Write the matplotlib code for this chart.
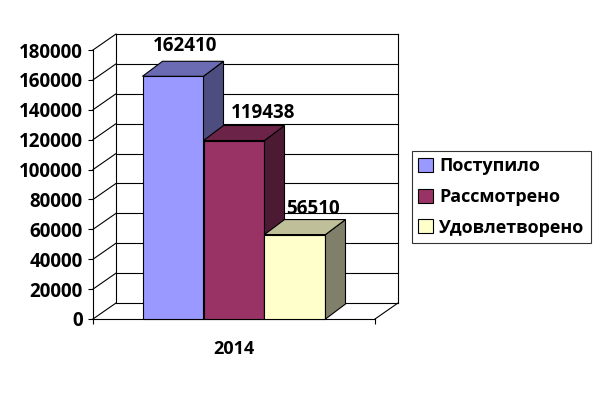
import matplotlib
matplotlib.use("Agg")
import matplotlib.pyplot as plt
from matplotlib.patches import Polygon, Patch
import numpy as np

# ---- data ----
series = ["Поступило", "Рассмотрено", "Удовлетворено"]
values = [162410, 119438, 56510]
category = "2014"
yticks = [0, 20000, 40000, 60000, 80000, 100000, 120000, 140000, 160000, 180000]

front_colors = ["#9999FF", "#993366", "#FFFFCC"]
top_colors = ["#6B6BB3", "#6B2447", "#BFBF99"]
side_colors = ["#4D4D80", "#4D1A33", "#80806A"]

# label placement offsets (pixels, relative to bar front centre / top back edge)
label_dx_px = [12, 29, 18]
label_dy_px = [15, 13, 11]

FONT = ["Open Sans", "DejaVu Sans"]
plt.rcParams["font.family"] = FONT

W, H, DPI = 599, 397, 100
fig = plt.figure(figsize=(W / DPI, H / DPI), dpi=DPI)
fig.patch.set_facecolor("white")

# front plane of the plot (pixels)
left_px, right_px, top_px, bot_px = 93, 375, 50, 319
ax = fig.add_axes([left_px / W, 1 - bot_px / H, (right_px - left_px) / W, (bot_px - top_px) / H])
ax.set_xlim(-0.5, 0.5)
ax.set_ylim(0, 180000)
ax.patch.set_visible(False)

# pixel -> data conversion for depth offsets
xpp = 1.0 / (right_px - left_px)
ypp = 180000.0 / (bot_px - top_px)
wall_dx, wall_dy = 23 * xpp, 16 * ypp
bar_dx, bar_dy = 20 * xpp, 15 * ypp

lw = 0.8
kw = dict(color="black", lw=lw, clip_on=False, zorder=1)
x0, x1 = -0.5, 0.5
# walls and gridlines
for v in yticks:
    ax.plot([x0 + wall_dx, x1 + wall_dx], [v + wall_dy, v + wall_dy], **kw)
    ax.plot([x0, x0 + wall_dx], [v, v + wall_dy], **kw)
ax.plot([x0 + wall_dx, x0 + wall_dx], [wall_dy, 180000 + wall_dy], **kw)
ax.plot([x1 + wall_dx, x1 + wall_dx], [wall_dy, 180000 + wall_dy], **kw)
ax.plot([x1, x1 + wall_dx], [0, wall_dy], **kw)

# bars
bw = 0.2163
n = len(values)
xs = (np.arange(n) - (n - 1) / 2) * bw
for i, (xc, v) in enumerate(zip(xs, values)):
    a, b = xc - bw / 2, xc + bw / 2
    ax.bar(xc, v, width=bw, color=front_colors[i], edgecolor="black", lw=lw, zorder=3 + i, clip_on=False)
    top = Polygon([(a, v), (b, v), (b + bar_dx, v + bar_dy), (a + bar_dx, v + bar_dy)],
                  closed=True, facecolor=top_colors[i], edgecolor="black", lw=lw, zorder=3 + i, clip_on=False)
    side = Polygon([(b, 0), (b, v), (b + bar_dx, v + bar_dy), (b + bar_dx, bar_dy)],
                   closed=True, facecolor=side_colors[i], edgecolor="black", lw=lw, zorder=3 + i, clip_on=False)
    ax.add_patch(side)
    ax.add_patch(top)
    ax.text(xc + label_dx_px[i] * xpp, v + bar_dy + label_dy_px[i] * ypp, str(v), ha="center", va="center",
            fontsize=13.5, fontweight="bold", zorder=10, clip_on=False)

# axes styling
for s in ["top", "right"]:
    ax.spines[s].set_visible(False)
ax.spines["left"].set_linewidth(lw)
ax.spines["bottom"].set_linewidth(lw)
ax.spines["left"].set_zorder(2)
ax.spines["bottom"].set_zorder(2)
ax.set_yticks(yticks)
ax.set_yticklabels([str(t) for t in yticks])
ax.tick_params(axis="y", direction="out", length=3.6, width=lw, pad=3.6, labelsize=13.5)
for lab in ax.get_yticklabels():
    lab.set_fontweight("bold")
ax.set_xticks([0])
ax.set_xticklabels([category])
ax.set_xticks([-0.5, 0.5], minor=True)
ax.tick_params(axis="x", which="major", length=0, pad=15, labelsize=13)
ax.tick_params(axis="x", which="minor", direction="out", length=3.6, width=lw)
for lab in ax.get_xticklabels():
    lab.set_fontweight("bold")

# legend
handles = [Patch(facecolor=c, edgecolor="black", lw=lw) for c in front_colors]
leg = fig.legend(handles, series, loc="center left", bbox_to_anchor=(403 / W, 1 - 197 / H),
                 frameon=True, fancybox=False, edgecolor="black", borderpad=0.35,
                 handlelength=0.8, handleheight=0.8, handletextpad=0.35, labelspacing=0.7,
                 prop=dict(family=FONT, weight="bold", size=13))
leg.get_frame().set_linewidth(lw)

fig.savefig("out.png", dpi=DPI)
